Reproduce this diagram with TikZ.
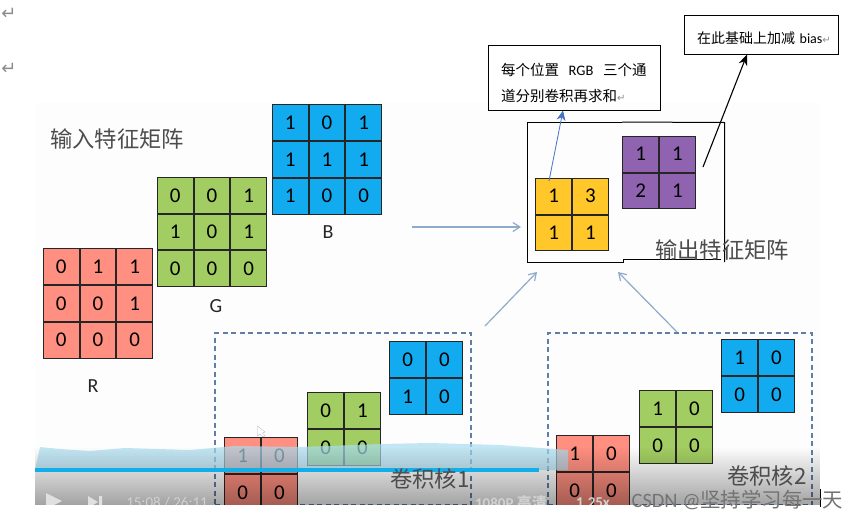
\documentclass[tikz,border=0pt]{standalone}
\usepackage{fontspec}
\setmainfont{Carlito}
\newfontfamily\cjk{Noto Sans CJK SC}
\newfontfamily\markfont{DejaVu Sans}
\usetikzlibrary{matrix,arrows.meta}

\definecolor{cellred}{HTML}{FF8F80}
\definecolor{cellgreen}{HTML}{A2CD62}
\definecolor{cellblue}{HTML}{12ABF0}
\definecolor{cellyellow}{HTML}{FFC729}
\definecolor{cellpurple}{HTML}{8F63B0}
\definecolor{dashblue}{HTML}{5F7FA5}
\definecolor{flowblue}{HTML}{8FAACB}
\definecolor{waveblue}{HTML}{A9DDF0}
\definecolor{barblue}{HTML}{12AEEA}

\begin{document}
\begin{tikzpicture}[x=1pt,y=-1pt,
  grid/.style={matrix of nodes,inner sep=0pt,outer sep=0pt,
               nodes={draw=black!85,line width=1pt,minimum size=#1,inner sep=0pt,
                      outer sep=0pt,anchor=center,font=\fontsize{21}{21}\selectfont}},
  grid/.default=35.7pt,
  kernelbox/.style={draw=dashblue,line width=1.2pt,dash pattern=on 5pt off 3.5pt,
                    minimum height=172pt,inner sep=0pt},
  notebox/.style={draw=black,line width=1pt,inner sep=0pt,align=left,
                  font=\fontsize{14.5}{26}\selectfont},
  flow/.style={draw=flowblue,line width=1.2pt,-{Straight Barb[length=7pt,width=9pt]}},
  title/.style={font=\fontsize{22.3}{24}\selectfont\cjk,text=black!70},
  letter/.style={font=\fontsize{20}{22}\selectfont,text=black!85},
  player/.style={font=\fontsize{15}{16}\selectfont,text=white!82!black},
  return/.style={font=\fontsize{18}{18}\selectfont\markfont,text=black!45},
]
\useasboundingbox (0,0) rectangle (859,520);

% === Slide background ===
\fill[black!.7] (35,103) rectangle (820,505);

% === Input feature matrix ===
\node[title] (inputtitle) at (117,139) {输入特征矩阵};

\matrix (R) at (98,303.5) [grid,nodes={fill=cellred}] {0&1&1\\0&0&1\\0&0&0\\};
\matrix (G) at (212,232) [grid,nodes={fill=cellgreen}] {0&0&1\\1&0&1\\0&0&0\\};
\matrix (B) at (327,159.5) [grid,nodes={fill=cellblue}] {1&0&1\\1&1&1\\1&0&0\\};

\node[letter] (Rname) at (93,386) {R};
\node[letter] (Gname) at (216,306) {G};
\node[letter] (Bname) at (328,232) {B};

% === Kernels ===
\node[kernelbox,minimum width=256pt] (kernelA) at (343,419) {};
\node[kernelbox,minimum width=264pt] (kernelB) at (680,419) {};

\matrix (Ra) at (261,474) [grid,nodes={fill=cellred}] {1&0\\0&0\\};
\matrix (Ga) at (344,429) [grid,nodes={fill=cellgreen}] {0&1\\0&0\\};
\matrix (Ba) at (426,378) [grid,nodes={fill=cellblue}] {0&0\\1&0\\};

\matrix (Rb) at (593,472) [grid,nodes={fill=cellred}] {1&0\\0&0\\};
\matrix (Gb) at (676,427) [grid,nodes={fill=cellgreen}] {1&0\\0&0\\};
\matrix (Bb) at (758,376) [grid,nodes={fill=cellblue}] {1&0\\0&0\\};

% === Player overlay ===
\fill[waveblue,opacity=.7] (35,470) -- (40,447) -- (60,449) -- (90,451) -- (125,448)
  -- (190,450) -- (235,446) -- (300,447) -- (380,444) -- (430,443) -- (500,445)
  -- (568,450) -- (568,470) -- cycle;
\foreach \y in {446,448,...,504}{
  \pgfmathsetmacro{\shadeval}{(\y-446)/59*.36}
  \fill[black,opacity=\shadeval] (35,\y) rectangle (820,\y+2);
}
\fill[barblue] (35,468) rectangle (539,472);

\fill[white!88!black] (46,493) -- (62,501) -- (46,509) -- cycle;
\fill[white!88!black] (88,496) -- (98,502) -- (88,508) -- cycle (99,496) rectangle (102,508);
\node[player] (timer) at (167,503) {15:08 / 26:11};
\node[player,font=\fontsize{15}{16}\selectfont\bfseries] (quality) at (511,503) {1080P {\cjk 高清}};
\node[player,font=\fontsize{15}{16}\selectfont\bfseries] (speed) at (593,503) {1.25x};

\fill[white] (0,505) rectangle (859,520);

\node[title] (kernelAname) at (430,479) {卷积核1};
\node[title] (kernelBname) at (767,476) {卷积核2};

% === Output feature matrix ===
\draw[black,line width=1pt] (622,122) -- (527,122) -- (527,262) -- (623,262) -- (623,259) -- (721,259);
\draw[black,line width=1pt] (622,122) -- (724.5,122.5) -- (724.5,262);

\matrix (sum) at (572,214.5) [grid,nodes={fill=cellyellow}] {1&3\\1&1\\};
\matrix (bias) at (659,172.5) [grid,nodes={fill=cellpurple}] {1&1\\2&1\\};

\node[title] (outputtitle) at (722,250) {输出特征矩阵};

% === Notes ===
\node[notebox,minimum width=172pt,minimum height=65pt,text width=146pt] (sumnote) at (574,78)
  {\rule{0pt}{22pt}{\cjk 每个位置}\ \ RGB\ \ {\cjk 三个通}\\{\cjk 道分别卷积再求和}{\markfont\color{black!45}\fontsize{10}{26}\selectfont ↵}};
\node[notebox,font=\fontsize{14}{26}\selectfont,minimum width=154pt,minimum height=39pt,text width=142pt] (biasnote) at (761,34.5)
  {\rule{0pt}{20pt}\hspace*{7pt}{\cjk 在此基础上加减} bias{\markfont\color{black!45}\fontsize{10}{26}\selectfont ↵}};

% === Connectors ===
\coordinate (inputtail) at (412,227);
\coordinate (inputtip) at (521,227);
\coordinate (kernelAtail) at (485,326);
\coordinate (kernelAtip) at (537,272);
\coordinate (kernelBtail) at (677,332);
\coordinate (kernelBtip) at (618,272);
\coordinate (sumtail) at (549,181);
\coordinate (sumtip) at (563,110.5);
\coordinate (biastail) at (703,167);
\coordinate (biastip) at (747,54.5);

\draw[flow] (inputtail) -- (inputtip);
\draw[flow] (kernelAtail) -- (kernelAtip);
\draw[flow] (kernelBtail) -- (kernelBtip);
\draw[draw={rgb,255:red,68;green,114;blue,196},line width=.8pt,-{Stealth[length=10pt,width=9pt]}] (sumtail) -- (sumtip);
\draw[black,line width=1.1pt,-{Stealth[length=11pt,width=9pt]}] (biastail) -- (biastip);

% === Page marks ===
\node[return] (markA) at (9,14) {↵};
\node[return] (markB) at (9,69) {↵};
\draw[fill=white,draw=black!30,line width=.3pt] (257.5,426) -- (257.5,436) -- (260,434) -- (263,437) -- (265,435.5) -- (262.5,433) -- (265,432) -- cycle;

% === Watermark ===
\draw[black,line width=.8pt] (820,489) -- (820,507);
\node[font=\fontsize{20.4}{22}\selectfont,text=black!55] (watermark) at (737.5,500) {CSDN @{\cjk 坚持学习每一天}};

\end{tikzpicture}
\end{document}
